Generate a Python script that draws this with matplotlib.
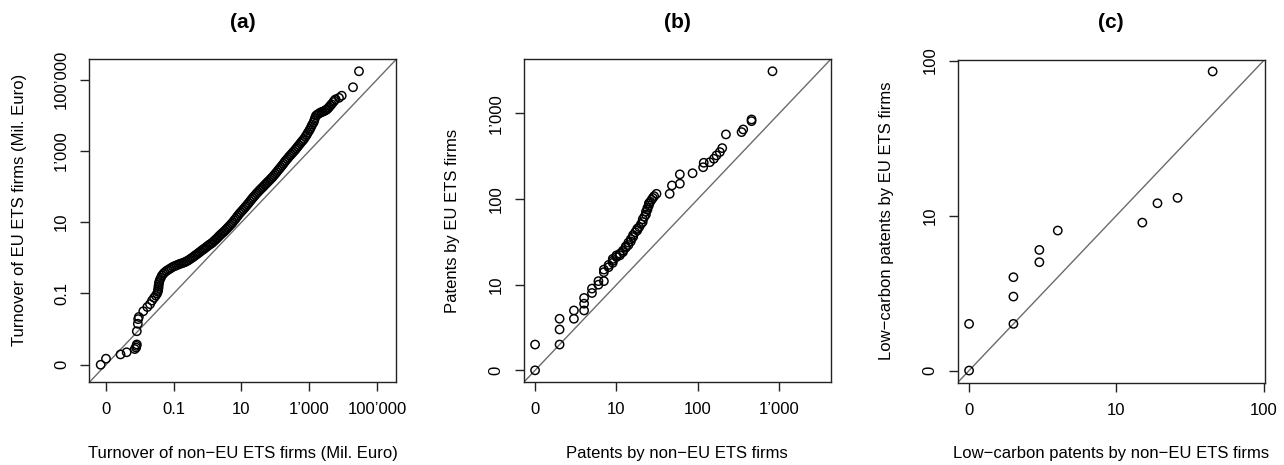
import numpy as np
import matplotlib
matplotlib.use("Agg")
import matplotlib.pyplot as plt

plt.rcParams["font.family"] = ["Liberation Sans", "DejaVu Sans"]

# (a) turnover quantiles as log10(Mil. Euro)
turnover_non_eu_log = [
    -3.157, -3.00, -2.57, -2.39, -2.15, -2.11, -2.10, -2.09, -2.09, -2.06,
    -2.05, -2.03, -1.90, -1.78, -1.70, -1.64, -1.58, -1.53, -1.49, -1.47,
    -1.46, -1.45, -1.45, -1.44, -1.43, -1.41, -1.38, -1.35, -1.31, -1.27,
    -1.22, -1.17, -1.12, -1.07, -1.02,
    -0.97, -0.92, -0.87, -0.82, -0.77, -0.72, -0.67, -0.63, -0.58, -0.53, -0.48, -0.43,
    -0.39, -0.35, -0.31, -0.27, -0.235, -0.195, -0.155, -0.115, -0.08, -0.04,
    0.0, 0.04, 0.08, 0.12, 0.157, 0.195, 0.235, 0.275, 0.31, 0.35,
    0.39, 0.43, 0.47, 0.51, 0.55, 0.59, 0.63, 0.67, 0.71, 0.745,
    0.785, 0.825, 0.865, 0.90, 0.94, 0.98, 1.02, 1.06, 1.10, 1.137,
    1.175, 1.215, 1.255, 1.295, 1.33, 1.37, 1.41, 1.45, 1.49, 1.53,
    1.57, 1.61, 1.65, 1.69, 1.725, 1.765, 1.805, 1.845, 1.885, 1.92,
    1.96, 2.00, 2.04, 2.08, 2.12, 2.16, 2.20, 2.24, 2.275, 2.31,
    2.35, 2.39, 2.43, 2.47, 2.51, 2.55, 2.59, 2.625, 2.66,
    2.70, 2.74, 2.78, 2.815, 2.85, 2.89, 2.925, 2.96, 3.0,
    3.03, 3.06, 3.09, 3.13, 3.15, 3.17, 3.20,
    3.24, 3.28, 3.32, 3.36, 3.40, 3.44, 3.48, 3.51, 3.54,
    3.58, 3.62, 3.66, 3.71, 3.74, 3.78,
    3.88, 3.96, 4.294, 4.47,
]
turnover_eu_log = [
    -3.00, -2.83, -2.71, -2.65, -2.56, -2.52, -2.47, -2.43, -2.06, -1.85,
    -1.72, -1.66, -1.50, -1.38, -1.30, -1.20, -1.12, -1.06, -1.00, -0.95,
    -0.90, -0.85, -0.80, -0.74, -0.68, -0.62, -0.56, -0.50, -0.45, -0.41,
    -0.37, -0.34, -0.31, -0.28, -0.25,
    -0.23, -0.21, -0.19, -0.17, -0.155, -0.14, -0.12, -0.10, -0.075, -0.045, -0.01, 0.02,
    0.05, 0.08, 0.105, 0.135, 0.16, 0.19, 0.22, 0.245, 0.27, 0.30,
    0.33, 0.36, 0.385, 0.41, 0.44, 0.475, 0.51, 0.545, 0.58, 0.62,
    0.655, 0.69, 0.725, 0.76, 0.80, 0.84, 0.88, 0.92, 0.96, 1.0,
    1.05, 1.095, 1.145, 1.19, 1.24, 1.28, 1.325, 1.365, 1.41, 1.45,
    1.495, 1.54, 1.59, 1.635, 1.68, 1.72, 1.765, 1.81, 1.85, 1.89,
    1.93, 1.965, 2.005, 2.045, 2.08, 2.12, 2.155, 2.195, 2.235, 2.27,
    2.315, 2.36, 2.405, 2.455, 2.50, 2.545, 2.595, 2.64, 2.69, 2.73,
    2.775, 2.82, 2.865, 2.905, 2.95, 2.99, 3.035, 3.075, 3.12,
    3.165, 3.215, 3.26, 3.30, 3.34, 3.40, 3.45, 3.51, 3.57,
    3.62, 3.68, 3.74, 3.80, 3.86, 3.92, 3.99,
    4.02, 4.045, 4.07, 4.09, 4.10, 4.12, 4.14, 4.16, 4.18,
    4.22, 4.27, 4.31, 4.37, 4.41, 4.45,
    4.49, 4.55, 4.788, 5.236,
]

# (b) patent counts (sorted quantiles)
patents_non_eu = [0, 0, 1, 1, 1, 2, 2, 3, 3, 3, 4, 4, 5, 5, 6, 6, 6, 7, 7, 8, 8, 8,
                  9, 9, 10, 10, 11, 11, 12, 12, 13, 13, 14, 14, 15, 15, 16, 17, 17,
                  18, 19, 20, 20, 21, 22, 22, 23, 23, 24, 24, 25, 26, 27, 28, 30,
                  44, 47, 59, 59, 85, 115, 117, 139, 156, 168, 185, 198, 220, 343,
                  359, 455, 455, 823]
patents_eu = [0, 1, 1, 2, 3, 3, 4, 4, 5, 6, 7, 8, 9, 10, 10, 13, 14, 15, 16, 17, 18,
              19, 20, 21, 21, 22, 23, 24, 26, 27, 28, 30, 31, 33, 35, 37, 40, 42, 44,
              46, 50, 53, 57, 61, 65, 70, 74, 78, 83, 88, 92, 97, 102, 107, 114, 114,
              143, 150, 193, 199, 234, 264, 268, 294, 322, 352, 392, 567, 603, 648,
              810, 848, 3100]

# (c) low-carbon patent counts
lowcarbon_non_eu = [0, 0, 1, 1, 1, 2, 2, 3, 14, 18, 25, 44]
lowcarbon_eu = [0, 1, 1, 2, 3, 4, 5, 7, 8, 11, 12, 84]

turnover_ticks = [-3, -1, 1, 3, 5]
turnover_labels = ["0", "0.1", "10", "1\u2019000", "100\u2019000"]
patent_ticks = [0, 1, 2, 3]
patent_labels = ["0", "10", "100", "1\u2019000"]
lowcarbon_ticks = [0, 1, 2]
lowcarbon_labels = ["0", "10", "100"]

W, H = 1284, 465
fig = plt.figure(figsize=(W / 100, H / 100), dpi=100)

panels = [
    dict(left=89.3, top=59.3, x=np.array(turnover_non_eu_log), y=np.array(turnover_eu_log),
         ticks=turnover_ticks, labels=turnover_labels, title="(a)",
         xlabel="Turnover of non\u2212EU ETS firms (Mil. Euro)",
         ylabel="Turnover of EU ETS firms (Mil. Euro)", ylab_x=20, ylab_y=210),
    dict(left=523.7, top=59.3, x=np.log10(np.array(patents_non_eu) + 1),
         y=np.log10(np.array(patents_eu) + 1),
         ticks=patent_ticks, labels=patent_labels, title="(b)",
         xlabel="Patents by non\u2212EU ETS firms",
         ylabel="Patents by EU ETS firms", ylab_x=453, ylab_y=221),
    dict(left=957.7, top=59.5, x=np.log10(np.array(lowcarbon_non_eu) + 1),
         y=np.log10(np.array(lowcarbon_eu) + 1),
         ticks=lowcarbon_ticks, labels=lowcarbon_labels, title="(c)",
         xlabel="Low\u2212carbon patents by non\u2212EU ETS firms",
         ylabel="Low\u2212carbon patents by EU ETS firms", ylab_x=887, ylab_y=221),
]

aw, ah = 307.0, 323.0
for p in panels:
    ax = fig.add_axes([p["left"] / W, 1 - (p["top"] + ah) / H, aw / W, ah / H])
    lo = min(p["x"].min(), p["y"].min())
    hi = max(p["x"].max(), p["y"].max())
    pad = 0.04 * (hi - lo)
    lim = (lo - pad, hi + pad)
    ax.plot(lim, lim, color="#6b6b6b", lw=1.0, zorder=1)
    ax.scatter(p["x"], p["y"], s=36, facecolors="none", edgecolors="black",
               linewidths=1.05, zorder=2)
    ax.set_xlim(lim)
    ax.set_ylim(lim)
    ax.set_xticks(p["ticks"], p["labels"], fontsize=12)
    ax.set_yticks(p["ticks"], p["labels"], fontsize=12, rotation=90, va="center")
    ax.tick_params(direction="out", length=6.5, width=1.0, color="#222222")
    ax.tick_params(axis="x", pad=8)
    ax.tick_params(axis="y", pad=8)
    for s in ax.spines.values():
        s.set_linewidth(1.0)
        s.set_color("#222222")
    cx = (p["left"] + aw / 2) / W
    fig.text(cx, 1 - 22 / H, p["title"], fontsize=15, fontweight="bold",
             ha="center", va="center")
    fig.text(cx, 1 - 453 / H, p["xlabel"], fontsize=12, ha="center", va="center")
    fig.text(p["ylab_x"] / W, 1 - p["ylab_y"] / H, p["ylabel"], fontsize=12,
             rotation=90, ha="center", va="center")

fig.savefig("out.png", dpi=100)
